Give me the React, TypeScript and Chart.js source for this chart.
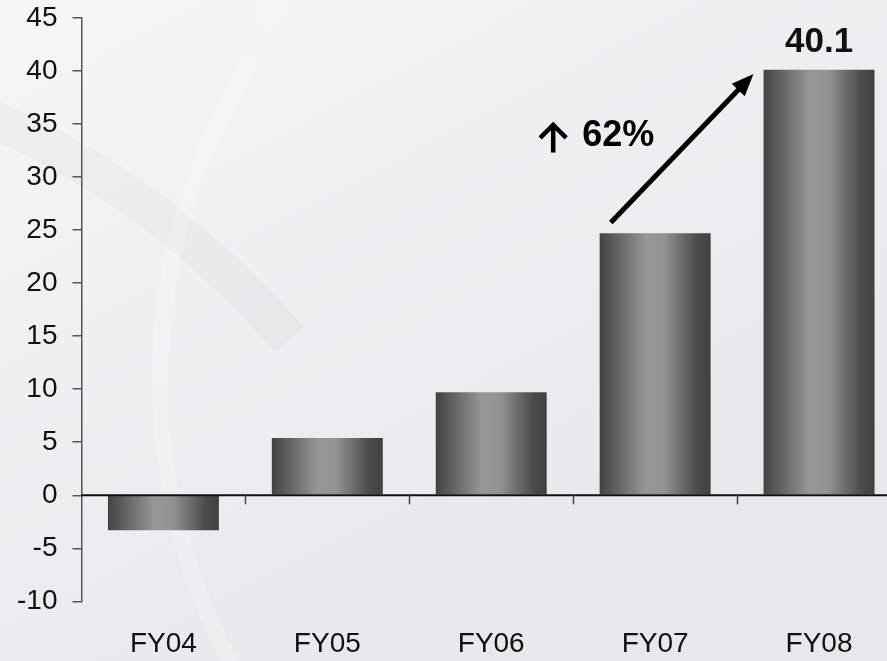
import React, { useEffect, useRef } from "react";
import { Chart, registerables } from "chart.js";

Chart.register(...registerables);

const categories = ["FY04", "FY05", "FY06", "FY07", "FY08"];
const values = [-3.3, 5.4, 9.7, 24.7, 40.1];
const yMin = -10;
const yMax = 45;
const yStep = 5;
const highlightLabel = "40.1";
const growthLabel = "62%";
// annotation anchors in data units (category index, value)
const arrowFrom = [2.73, 25.7];
const arrowTo = [3.6, 39.7];
const growthTextAt = [2.555, 32.9];
const growthGlyphAt = [2.378, 35.0, 32.3];

const FONT = "'Liberation Sans', Arial, Helvetica, sans-serif";
const SHIFT = 14;

const backgroundPlugin = {
  id: "bgPlugin",
  beforeDraw(chart: any) {
    const { ctx, width, height } = chart;
    ctx.save();
    ctx.translate(0, SHIFT);
    const g = ctx.createLinearGradient(0, 0, width * 0.4, height);
    g.addColorStop(0, "#f6f6f6");
    g.addColorStop(1, "#e7e8ea");
    ctx.fillStyle = g;
    ctx.fillRect(0, -SHIFT, width, height);
    // faint decorative swirl
    ctx.strokeStyle = "rgba(0,0,0,0.022)";
    ctx.lineWidth = 38;
    ctx.beginPath();
    ctx.moveTo(-30, 110);
    ctx.quadraticCurveTo(150, 180, 290, 340);
    ctx.stroke();
    ctx.strokeStyle = "rgba(255,255,255,0.22)";
    ctx.lineWidth = 16;
    ctx.beginPath();
    ctx.arc(760, 380, 600, Math.PI * 0.82, Math.PI * 1.18);
    ctx.stroke();
    ctx.strokeStyle = "rgba(255,255,255,0.15)";
    ctx.lineWidth = 30;
    ctx.beginPath();
    ctx.moveTo(272, -SHIFT);
    ctx.lineTo(272, 120);
    ctx.stroke();
    ctx.restore();
  },
};

const overlayPlugin = {
  id: "overlayPlugin",
  afterDatasetsDraw(chart: any) {
    const { ctx, scales, chartArea } = chart;
    const x = scales.x;
    const y = scales.y;
    const y0 = y.getPixelForValue(0);
    ctx.save();
    // zero line
    ctx.strokeStyle = "#111";
    ctx.lineWidth = 2;
    ctx.beginPath();
    ctx.moveTo(chartArea.left, y0);
    ctx.lineTo(chartArea.right, y0);
    ctx.stroke();
    // category boundary tick marks
    ctx.strokeStyle = "#444";
    ctx.lineWidth = 1.5;
    for (let i = 1; i <= categories.length; i++) {
      const px = Math.round(x.getPixelForValue(i - 0.5)) + 0.5;
      ctx.beginPath();
      ctx.moveTo(px, y0);
      ctx.lineTo(px, y0 + 9);
      ctx.stroke();
    }
    // value label on last bar
    const meta = chart.getDatasetMeta(0);
    const last = meta.data[values.length - 1];
    ctx.fillStyle = "#111";
    ctx.font = `bold 35px ${FONT}`;
    ctx.textAlign = "center";
    ctx.textBaseline = "alphabetic";
    ctx.fillText(highlightLabel, last.x, last.y - 18);

    // growth arrow
    const sx = x.getPixelForValue(arrowFrom[0]);
    const sy = y.getPixelForValue(arrowFrom[1]);
    const ex = x.getPixelForValue(arrowTo[0]);
    const ey = y.getPixelForValue(arrowTo[1]);
    const ang = Math.atan2(ey - sy, ex - sx);
    const headLen = 22;
    const headHalf = 9;
    const bx = ex - headLen * Math.cos(ang);
    const by = ey - headLen * Math.sin(ang);
    ctx.strokeStyle = "#000";
    ctx.fillStyle = "#000";
    ctx.lineWidth = 5;
    ctx.beginPath();
    ctx.moveTo(sx, sy);
    ctx.lineTo(bx + 3 * Math.cos(ang), by + 3 * Math.sin(ang));
    ctx.stroke();
    ctx.beginPath();
    ctx.moveTo(ex, ey);
    ctx.lineTo(bx + headHalf * Math.sin(ang), by - headHalf * Math.cos(ang));
    ctx.lineTo(bx - headHalf * Math.sin(ang), by + headHalf * Math.cos(ang));
    ctx.closePath();
    ctx.fill();

    // growth text
    ctx.font = `bold 36px ${FONT}`;
    ctx.textAlign = "left";
    ctx.fillText(growthLabel, x.getPixelForValue(growthTextAt[0]), y.getPixelForValue(growthTextAt[1]));
    // up-arrow glyph
    const gx = x.getPixelForValue(growthGlyphAt[0]);
    const gt = y.getPixelForValue(growthGlyphAt[1]);
    const gb = y.getPixelForValue(growthGlyphAt[2]);
    ctx.lineWidth = 4.5;
    ctx.lineCap = "butt";
    ctx.beginPath();
    ctx.moveTo(gx, gb);
    ctx.lineTo(gx, gt + 2);
    ctx.stroke();
    ctx.lineJoin = "miter";
    ctx.beginPath();
    ctx.moveTo(gx - 13, gt + 14);
    ctx.lineTo(gx, gt + 1);
    ctx.lineTo(gx + 13, gt + 14);
    ctx.stroke();
    ctx.restore();
  },
};

function barGradient(context: any) {
  const chart = context.chart;
  const area = chart.chartArea;
  if (!area || context.dataIndex === undefined) return "#777";
  const xs = chart.scales.x;
  const cx = xs.getPixelForValue(context.dataIndex);
  const w = ((area.right - area.left) / categories.length) * 0.677;
  const g = chart.ctx.createLinearGradient(cx - w / 2, 0, cx + w / 2, 0);
  g.addColorStop(0, "#434343");
  g.addColorStop(0.42, "#979797");
  g.addColorStop(0.58, "#929292");
  g.addColorStop(0.88, "#4b4b4b");
  g.addColorStop(1, "#414141");
  return g;
}

export default function App() {
  const ref = useRef<HTMLCanvasElement | null>(null);
  useEffect(() => {
    if (!ref.current) return;
    const chart = new Chart(ref.current, {
      type: "bar",
      data: {
        labels: categories,
        datasets: [
          {
            data: values,
            backgroundColor: barGradient,
            borderWidth: 0,
            barPercentage: 0.677,
            categoryPercentage: 1,
          },
        ],
      },
      options: {
        responsive: false,
        animation: false,
        layout: { padding: { left: 2, right: 4, top: 6, bottom: 0 } },
        plugins: { legend: { display: false }, tooltip: { enabled: false } },
        scales: {
          x: {
            grid: { display: false },
            border: { display: false },
            ticks: {
              font: { family: FONT, size: 28 },
              color: "#111",
              padding: 18,
              maxRotation: 0,
              autoSkip: false,
            },
          },
          y: {
            min: yMin,
            max: yMax,
            ticks: {
              stepSize: yStep,
              font: { family: FONT, size: 28 },
              color: "#111",
              padding: 15,
            },
            grid: {
              display: true,
              drawOnChartArea: false,
              drawTicks: true,
              tickLength: 9,
              color: "#555",
              lineWidth: 1.5,
            },
            border: { display: true, color: "#555", width: 1.5 },
          },
        },
      },
      plugins: [backgroundPlugin, overlayPlugin],
    });
    return () => chart.destroy();
  }, []);
  return (
    <div
      style={{
        position: "fixed",
        left: 0,
        top: 0,
        width: 887,
        height: 661,
        overflow: "hidden",
        background: "#eeeeef",
      }}
    >
      <canvas
        ref={ref}
        width={905}
        height={693}
        style={{ width: 905, height: 693, display: "block", marginTop: -SHIFT }}
      />
    </div>
  );
}
